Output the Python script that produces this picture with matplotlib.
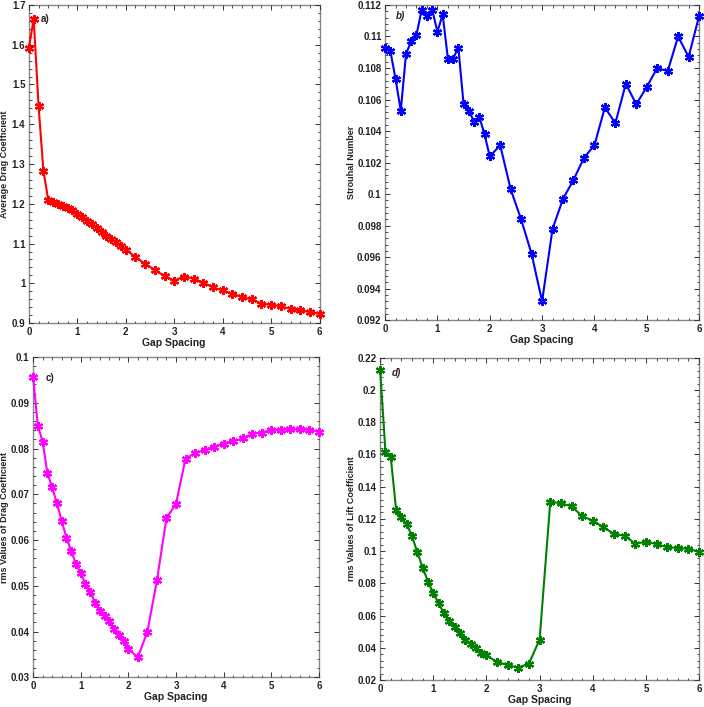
import numpy as np
import matplotlib
matplotlib.use("Agg")
import matplotlib.pyplot as plt
from matplotlib.ticker import AutoMinorLocator

plt.rcParams['font.family'] = ['Liberation Sans', 'DejaVu Sans']

gap = [0.0, 0.1, 0.2, 0.3, 0.4, 0.5, 0.6, 0.7, 0.8, 0.9, 1.0,
       1.1, 1.2, 1.3, 1.4, 1.5, 1.6, 1.7, 1.8, 1.9, 2.0,
       2.2, 2.4, 2.6, 2.8, 3.0, 3.2, 3.4, 3.6, 3.8, 4.0,
       4.2, 4.4, 4.6, 4.8, 5.0, 5.2, 5.4, 5.6, 5.8, 6.0]

avg_drag = [1.592, 1.665, 1.446, 1.283, 1.210, 1.204, 1.200, 1.195, 1.190, 1.184, 1.175,
            1.166, 1.157, 1.149, 1.140, 1.130, 1.120, 1.111, 1.103, 1.095, 1.085,
            1.066, 1.049, 1.034, 1.018, 1.007, 1.017, 1.012, 1.002, 0.990, 0.982,
            0.974, 0.965, 0.960, 0.949, 0.946, 0.942, 0.936, 0.932, 0.928, 0.923]

strouhal = [0.1093, 0.1091, 0.1073, 0.1053, 0.1089, 0.1097, 0.1101, 0.1117, 0.1113, 0.1117, 0.1103,
            0.1114, 0.1086, 0.1086, 0.1093, 0.1057, 0.1053, 0.1046, 0.1049, 0.1038, 0.1024,
            0.1031, 0.1003, 0.0984, 0.0962, 0.0932, 0.0978, 0.0997, 0.1009, 0.1023, 0.1031,
            0.1055, 0.1045, 0.1070, 0.1057, 0.1068, 0.1080, 0.1078, 0.1100, 0.1087, 0.1113]

rms_drag = [0.0956, 0.0850, 0.0815, 0.0747, 0.0715, 0.0680, 0.0642, 0.0605, 0.0576, 0.0548, 0.0528,
            0.0504, 0.0487, 0.0463, 0.0446, 0.0435, 0.0423, 0.0406, 0.0392, 0.0379, 0.0361,
            0.0344, 0.0400, 0.0512, 0.0648, 0.0679, 0.0778, 0.0790, 0.0797, 0.0804, 0.0811,
            0.0816, 0.0822, 0.0832, 0.0835, 0.0840, 0.0841, 0.0842, 0.0842, 0.0841, 0.0837]

rms_lift = [0.2127, 0.1613, 0.1582, 0.1257, 0.1209, 0.1168, 0.1093, 0.0992, 0.0898, 0.0811, 0.0739,
            0.0677, 0.0614, 0.0568, 0.0531, 0.0490, 0.0452, 0.0427, 0.0398, 0.0371, 0.0353,
            0.0313, 0.0293, 0.0278, 0.0303, 0.0452, 0.1305, 0.1298, 0.1278, 0.1218, 0.1189,
            0.1150, 0.1106, 0.1096, 0.1046, 0.1058, 0.1044, 0.1025, 0.1019, 0.1015, 0.0996]

panels = [
    dict(y=avg_drag, color='#ff0000', ylabel='Average Drag Coefficient', tag='a)', italic=False,
         ylim=(0.9, 1.7), yticks=[0.9, 1.0, 1.1, 1.2, 1.3, 1.4, 1.5, 1.6, 1.7],
         yticklabels=['0.9', '1', '1.1', '1.2', '1.3', '1.4', '1.5', '1.6', '1.7'],
         tagpos=(0.24, 1.665), rect=[0.041, 0.543, 0.413, 0.450], ylx=-0.068),
    dict(y=strouhal, color='#0000ff', ylabel='Strouhal Number', tag='b)', italic=True,
         ylim=(0.092, 0.112), yticks=[0.092, 0.094, 0.096, 0.098, 0.100, 0.102, 0.104, 0.106, 0.108, 0.110, 0.112],
         yticklabels=['0.092', '0.094', '0.096', '0.098', '0.1', '0.102', '0.104', '0.106', '0.108', '0.11', '0.112'],
         tagpos=(0.20, 0.1113), rect=[0.547, 0.547, 0.446, 0.446], ylx=-0.092),
    dict(y=rms_drag, color='#ff00ff', ylabel='rms Values of Drag Coefficient', tag='c)', italic=False,
         ylim=(0.03, 0.1), yticks=[0.03, 0.04, 0.05, 0.06, 0.07, 0.08, 0.09, 0.10],
         yticklabels=['0.03', '0.04', '0.05', '0.06', '0.07', '0.08', '0.09', '0.1'],
         tagpos=(0.27, 0.0955), rect=[0.047, 0.042, 0.406, 0.453], ylx=-0.085),
    dict(y=rms_lift, color='#008000', ylabel='rms Values of Lift Coefficient', tag='d)', italic=True,
         ylim=(0.02, 0.22), yticks=[0.02, 0.04, 0.06, 0.08, 0.10, 0.12, 0.14, 0.16, 0.18, 0.20, 0.22],
         yticklabels=['0.02', '0.04', '0.06', '0.08', '0.1', '0.12', '0.14', '0.16', '0.18', '0.2', '0.22'],
         tagpos=(0.22, 0.2105), rect=[0.540, 0.038, 0.453, 0.456], ylx=-0.075),
]

fig = plt.figure(figsize=(7.04, 7.07), dpi=100)
star = (6, 2, 0)
for p in panels:
    ax = fig.add_axes(p['rect'])
    ax.plot(gap, p['y'], color=p['color'], lw=1.5, marker=star, markersize=6.5,
            markeredgewidth=1.6, markeredgecolor=p['color'], markerfacecolor=p['color'],
            clip_on=False, zorder=3)
    ax.set_xlim(0, 6)
    ax.set_ylim(*p['ylim'])
    ax.set_xticks([0, 1, 2, 3, 4, 5, 6])
    ax.set_xticklabels(['0', '1', '2', '3', '4', '5', '6'])
    ax.set_yticks(p['yticks'])
    ax.set_yticklabels(p['yticklabels'])
    ax.xaxis.set_minor_locator(AutoMinorLocator(5))
    ax.yaxis.set_minor_locator(AutoMinorLocator(5))
    ax.tick_params(which='both', direction='in', top=True, right=True,
                   labelsize=7, colors='#333333', labelcolor='#222222', pad=2.5)
    ax.tick_params(which='major', length=3.5, width=0.7)
    ax.tick_params(which='minor', length=1.8, width=0.6)
    for lab in ax.get_xticklabels() + ax.get_yticklabels():
        lab.set_fontweight('bold')
    for s in ax.spines.values():
        s.set_color('#888888')
        s.set_linewidth(1.0)
        s.set_zorder(1)
    ax.set_xlabel('Gap Spacing', fontsize=7.5, fontweight='bold', color='#222222', labelpad=1)
    ax.set_ylabel(p['ylabel'], fontsize=6.5, fontweight='bold', color='#222222')
    ax.yaxis.set_label_coords(p['ylx'], 0.5)
    ax.text(p['tagpos'][0], p['tagpos'][1], p['tag'], fontsize=7, fontweight='bold',
            fontstyle='italic' if p['italic'] else 'normal', color='#222222', va='center')

fig.savefig('out.png', dpi=100)
